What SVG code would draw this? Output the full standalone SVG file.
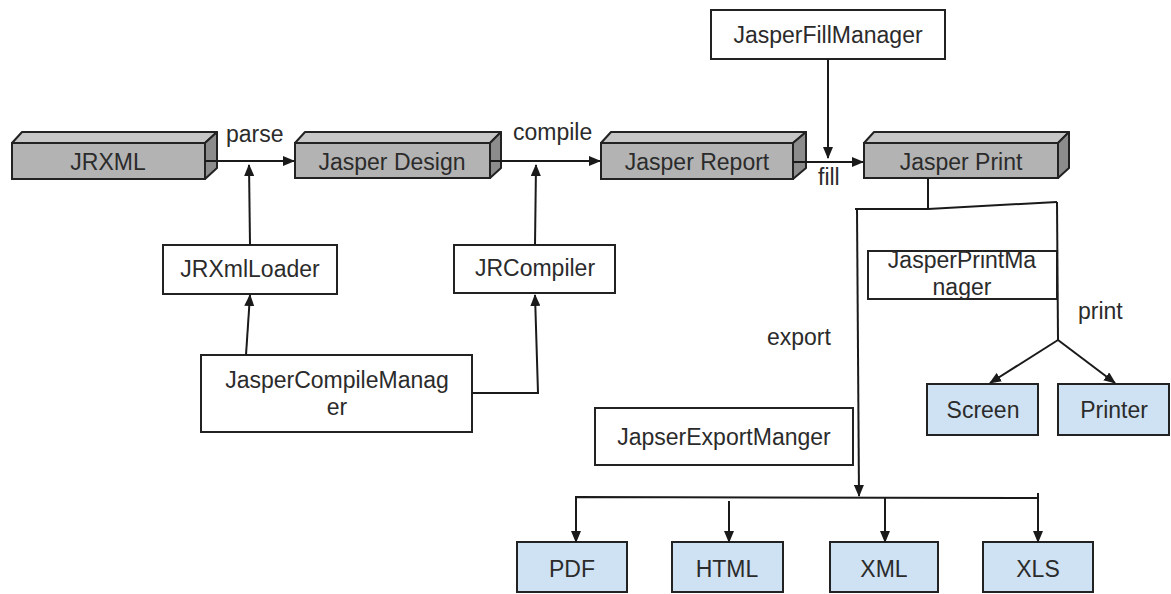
<svg xmlns="http://www.w3.org/2000/svg" width="1171" height="594" viewBox="0 0 1171 594">
  <style>
    text { font-family: "Liberation Sans", Arial, sans-serif; font-size: 23px; fill: #2b2b2b; text-anchor: middle; }
    .lbl { text-anchor: start; }
    .front { fill: #b3b3b3; stroke: #222; stroke-width: 2; }
    .top { fill: #c6c6c6; stroke: #222; stroke-width: 2; stroke-linejoin: round; }
    .side { fill: #8c8c8c; stroke: #222; stroke-width: 2; stroke-linejoin: round; }
    .plain { fill: #ffffff; stroke: #222; stroke-width: 2; }
    .out { fill: #cfe2f3; stroke: #222; stroke-width: 2; }
    .wire { fill: none; stroke: #1a1a1a; stroke-width: 2; }
    .arrow { marker-end: url(#head); }
  </style>
  <defs>
    <marker id="head" markerUnits="userSpaceOnUse" markerWidth="12" markerHeight="10" refX="11" refY="5" orient="auto">
      <path d="M0,0 L12,5 L0,10 z" fill="#1a1a1a"/>
    </marker>
  </defs>

  <rect width="1171" height="594" fill="#ffffff"/>

  <!-- pipeline stages (3D bars) -->
  <g id="jrxml">
    <polygon class="top" points="12,143 22,132 217,132 205,143"/>
    <polygon class="side" points="205,143 217,132 217,168 205,179"/>
    <rect class="front" x="12" y="143" width="193" height="36"/>
    <text x="108" y="170">JRXML</text>
  </g>
  <g id="jasper-design">
    <polygon class="top" points="295,143 305,132 501,132 490,143"/>
    <polygon class="side" points="490,143 501,132 501,168 490,178"/>
    <rect class="front" x="295" y="143" width="195" height="35"/>
    <text x="392" y="170">Jasper Design</text>
  </g>
  <g id="jasper-report">
    <polygon class="top" points="601,143 611,132 806,132 793,143"/>
    <polygon class="side" points="793,143 806,132 806,168 793,179"/>
    <rect class="front" x="601" y="143" width="192" height="36"/>
    <text x="697" y="170">Jasper Report</text>
  </g>
  <g id="jasper-print">
    <polygon class="top" points="864,143 874,132 1069,132 1058,143"/>
    <polygon class="side" points="1058,143 1069,132 1069,168 1058,178"/>
    <rect class="front" x="864" y="143" width="194" height="35"/>
    <text x="961" y="170">Jasper Print</text>
  </g>

  <!-- manager / helper classes -->
  <g id="jasper-fill-manager">
    <rect class="plain" x="711" y="10" width="234" height="49"/>
    <text x="828" y="43">JasperFillManager</text>
  </g>
  <g id="jrxml-loader">
    <rect class="plain" x="163" y="245" width="174" height="49"/>
    <text x="250" y="277">JRXmlLoader</text>
  </g>
  <g id="jr-compiler">
    <rect class="plain" x="454" y="245" width="161" height="48"/>
    <text x="535" y="276">JRCompiler</text>
  </g>
  <g id="jasper-compile-manager">
    <rect class="plain" x="201" y="355" width="271" height="77"/>
    <text x="337" y="388">JasperCompileManag</text>
    <text x="337" y="415">er</text>
  </g>
  <g id="jasper-print-manager">
    <rect class="plain" x="868" y="251" width="189" height="48"/>
    <text x="962" y="268">JasperPrintMa</text>
    <text x="962" y="295">nager</text>
  </g>
  <g id="jasper-export-manager">
    <rect class="plain" x="595" y="408" width="258" height="57"/>
    <text x="724" y="445">JapserExportManger</text>
  </g>

  <!-- output targets -->
  <g id="screen">
    <rect class="out" x="927" y="384" width="111" height="51"/>
    <text x="983" y="418">Screen</text>
  </g>
  <g id="printer">
    <rect class="out" x="1058" y="384" width="111" height="51"/>
    <text x="1114" y="418">Printer</text>
  </g>
  <g id="pdf">
    <rect class="out" x="517" y="542" width="110" height="50"/>
    <text x="572" y="577">PDF</text>
  </g>
  <g id="html">
    <rect class="out" x="672" y="542" width="111" height="50"/>
    <text x="727" y="577">HTML</text>
  </g>
  <g id="xml">
    <rect class="out" x="830" y="542" width="108" height="50"/>
    <text x="884" y="577">XML</text>
  </g>
  <g id="xls">
    <rect class="out" x="983" y="542" width="110" height="50"/>
    <text x="1038" y="577">XLS</text>
  </g>

  <!-- connectors -->
  <g id="connectors">
    <line class="wire arrow" x1="205" y1="161" x2="294" y2="161"/>
    <line class="wire arrow" x1="490" y1="161" x2="600" y2="161"/>
    <line class="wire arrow" x1="793" y1="162" x2="863" y2="162"/>
    <line class="wire arrow" x1="828" y1="59" x2="828" y2="158"/>

    <line class="wire arrow" x1="250" y1="245" x2="249" y2="165"/>
    <line class="wire arrow" x1="246" y1="355" x2="250" y2="295"/>
    <polyline class="wire arrow" points="472,393 538,393 535,295"/>
    <line class="wire arrow" x1="535" y1="245" x2="536" y2="165"/>

    <polyline class="wire" points="928,178 928,209"/>
    <polyline class="wire" points="855,209 928,209 1057,202"/>
    <line class="wire arrow" x1="857" y1="209" x2="859" y2="496"/>
    <line class="wire" x1="1057" y1="202" x2="1058" y2="340"/>
    <line class="wire arrow" x1="1058" y1="340" x2="990" y2="383"/>
    <line class="wire arrow" x1="1058" y1="340" x2="1115" y2="383"/>

    <polyline class="wire" points="576,541 576,497 1038,498"/>
    <line class="wire arrow" x1="576" y1="497" x2="576" y2="542"/>
    <line class="wire arrow" x1="729" y1="501" x2="729" y2="542"/>
    <line class="wire arrow" x1="885" y1="497" x2="885" y2="542"/>
    <line class="wire arrow" x1="1038" y1="493" x2="1038" y2="542"/>

    <text class="lbl" x="226" y="142">parse</text>
    <text class="lbl" x="513" y="140">compile</text>
    <text class="lbl" x="818" y="185">fill</text>
    <text class="lbl" x="767" y="345">export</text>
    <text class="lbl" x="1078" y="319">print</text>
  </g>
</svg>
